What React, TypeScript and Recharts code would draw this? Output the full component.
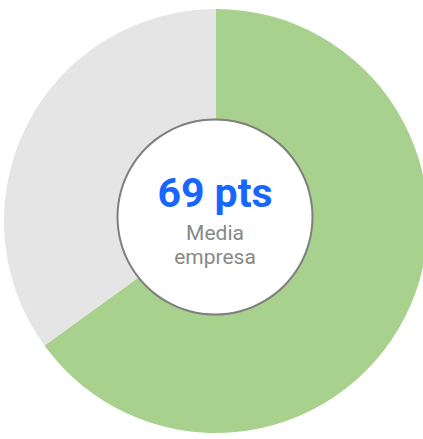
import React from "react";
import { PieChart, Pie, Cell, Label } from "recharts";

const categories = ["Media empresa", "Resto"];
const values = [65, 35];
const colors = ["#a8d18d", "#e5e5e5"];
const centerValue = "69 pts";
const centerLines = ["Media", "empresa"];

const data = categories.map((name, i) => ({ name, value: values[i] }));
const ringData = [{ name: "ring", value: 1 }];

const RING_CX = 215;
const RING_CY = 217;

const CenterText = (props: any) => {
  const cx = props.cx;
  const cy = props.cy;
  return (
    <g>
      <text
        x={cx}
        y={cy - 10}
        textAnchor="middle"
        fontFamily="Roboto"
        fontWeight={700}
        fontSize={41}
        fill="#1766ff"
      >
        {centerValue}
      </text>
      <text x={cx} y={cy + 23} textAnchor="middle" fontFamily="Roboto" fontSize={21} fill="#888888">
        {centerLines[0]}
      </text>
      <text x={cx} y={cy + 47} textAnchor="middle" fontFamily="Roboto" fontSize={21} fill="#888888">
        {centerLines[1]}
      </text>
    </g>
  );
};

export default function App() {
  return (
    <div style={{ position: "absolute", left: 0, top: 0 }}>
      <PieChart width={423} height={439} margin={{ top: 0, right: 0, bottom: 0, left: 0 }}>
        <Pie
          data={data}
          dataKey="value"
          cx={216}
          cy={221}
          innerRadius={90}
          outerRadius={212}
          startAngle={90}
          endAngle={-270}
          stroke="none"
          isAnimationActive={false}
        >
          {data.map((d, i) => (
            <Cell key={d.name} fill={colors[i]} />
          ))}
        </Pie>
        <Pie
          data={ringData}
          dataKey="value"
          cx={RING_CX}
          cy={RING_CY}
          innerRadius={0}
          outerRadius={97}
          fill="#ffffff"
          stroke="none"
          isAnimationActive={false}
        />
        <Pie
          data={ringData}
          dataKey="value"
          cx={RING_CX}
          cy={RING_CY}
          innerRadius={96.5}
          outerRadius={98.5}
          fill="#7f7f7f"
          stroke="none"
          isAnimationActive={false}
        >
          <Label content={<CenterText cx={RING_CX} cy={RING_CY} />} position="center" />
        </Pie>
      </PieChart>
    </div>
  );
}
